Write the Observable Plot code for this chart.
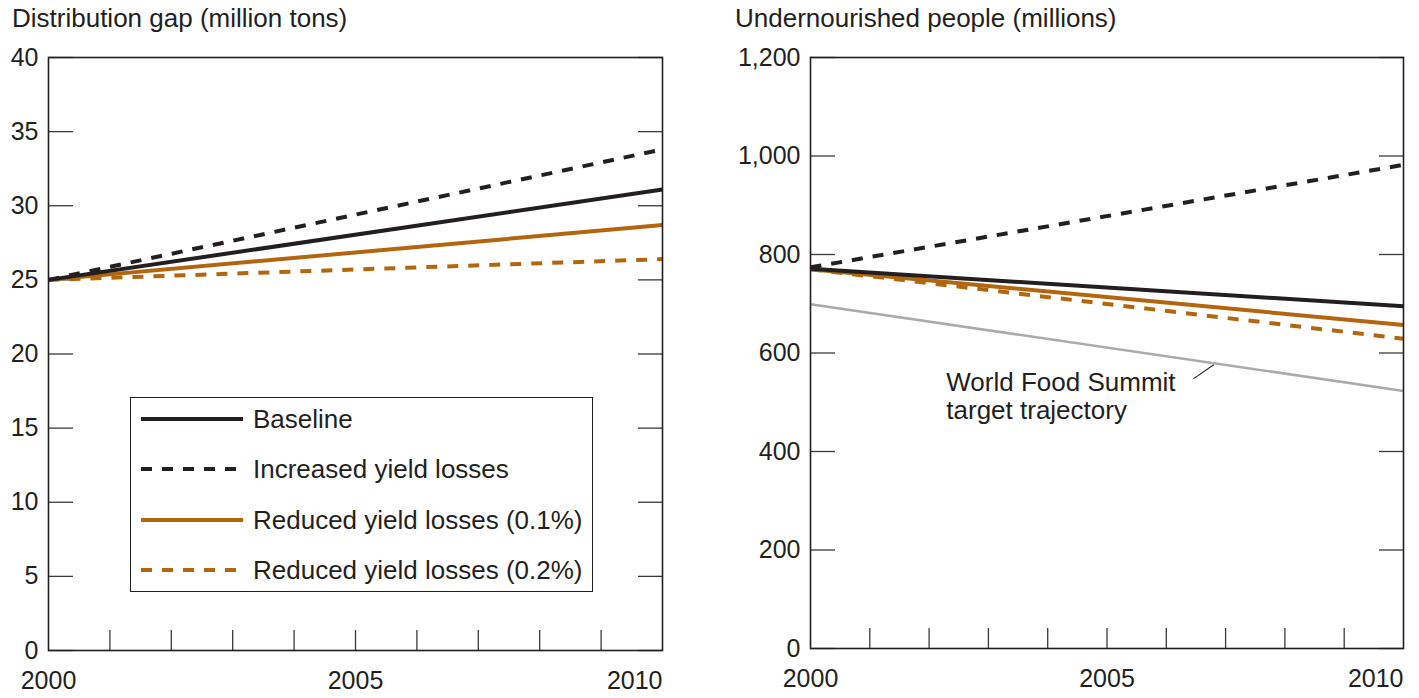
<!DOCTYPE html>
<html>
<head>
<meta charset="utf-8">
<script src="https://cdn.jsdelivr.net/npm/d3@7"></script>
<script src="https://cdn.jsdelivr.net/npm/@observablehq/plot@0.6"></script>
<style>
  html, body { margin: 0; padding: 0; background: #fff; }
  body { width: 1419px; height: 698px; overflow: hidden; position: relative;
         font-family: "Liberation Sans", Arial, Helvetica, sans-serif; color: #231f20; }
  .title { position: absolute; top: 2px; font-size: 26px; line-height: 32px; white-space: nowrap; }
  .panel { position: absolute; top: 36px; }
  .legend { position: absolute; left: 130px; top: 397px; width: 463px; height: 195px;
            border: 1.5px solid #231f20; background: #fff; box-sizing: border-box; }
  .legend .row { position: absolute; left: 0; height: 30px; display: flex; align-items: center; }
  .legend .row span { font-size: 26px; margin-left: 10px; white-space: nowrap; }
</style>
</head>
<body>
<div class="title" style="left:12px">Distribution gap (million tons)</div>
<div class="title" style="left:735px">Undernourished people (millions)</div>
<div class="panel" id="left" style="left:0px"></div>
<div class="panel" id="right" style="left:700px"></div>
<div class="legend" id="legend"></div>
<script>
// ---- data ----
const years = [2000, 2010];
const minorYearTicks = [2001, 2002, 2003, 2004, 2005, 2006, 2007, 2008, 2009];
const xLabelYears = [2000, 2005];
const xLabelEnd = [2010];

const gapTicks = [0, 5, 10, 15, 20, 25, 30, 35, 40];
const gapBaseline = [25, 31.1];
const gapIncreased = [25, 33.8];
const gapReduced01 = [25, 28.7];
const gapReduced02 = [25, 26.4];

const undTicks = [0, 200, 400, 600, 800, 1000, 1200];
const undBaseline = [771, 695];
const undIncreased = [774, 982];
const undReduced01 = [770, 657];
const undReduced02 = [770, 629];
const wfsTarget = [699, 523];

const seriesNames = ["Baseline", "Increased yield losses", "Reduced yield losses (0.1%)", "Reduced yield losses (0.2%)"];
const wfsLabel = "World Food Summit\ntarget trajectory";
const wfsLabelPos = {x: 2002.29, y: 512};
const wfsLeader = {x1: 2006.46, y1: 548, x2: 2006.80, y2: 576};

// ---- styles ----
const BLACK = "#231f20";
const ORANGE = "#b3660d";
const GRAY = "#a9abae";
const DASH = "11,10";
const styles = [
  {stroke: BLACK, dash: null, width: 4},
  {stroke: BLACK, dash: DASH, width: 4},
  {stroke: ORANGE, dash: null, width: 4},
  {stroke: ORANGE, dash: DASH, width: 4}
];
const FONT = "'Liberation Sans', Arial, Helvetica, sans-serif";

const rows = (vals) => years.map((yr, i) => ({year: yr, value: vals[i]}));
const lineMark = (vals, s) => Plot.line(rows(vals), {x: "year", y: "value", stroke: s.stroke,
  strokeWidth: s.width, strokeDasharray: s.dash, strokeLinecap: "butt"});

function axes(ticks, fmt) {
  return [
    Plot.axisY(ticks, {anchor: "left", tickSize: -25, tickPadding: 35, stroke: "#3a3a3a", strokeWidth: 1.3, label: null, tickFormat: fmt, fill: BLACK}),
    Plot.axisY(ticks, {anchor: "right", tickSize: -25, tickPadding: 0, stroke: "#3a3a3a", strokeWidth: 1.3, label: null, tickFormat: () => ""}),
    Plot.axisX(minorYearTicks, {anchor: "bottom", tickSize: -20, stroke: "#3a3a3a", strokeWidth: 1.3, label: null, tickFormat: () => ""}),
    Plot.axisX(xLabelYears, {anchor: "bottom", tickSize: 0, tickPadding: 21, label: null, tickFormat: "d", fill: BLACK}),
    Plot.axisX(xLabelEnd, {anchor: "bottom", tickSize: 0, tickPadding: 21, label: null, tickFormat: "d", textAnchor: "end", fill: BLACK})
  ];
}

const common = {
  height: 662,
  marginTop: 21,
  style: {fontFamily: FONT, fontSize: "25px", color: BLACK, background: "transparent", overflow: "visible"},
  x: {domain: [2000, 2010]}
};

const left = Plot.plot({
  ...common,
  width: 700, marginLeft: 48, marginRight: 38, marginBottom: 48,
  y: {domain: [0, 40]},
  marks: [
    ...axes(gapTicks, d => String(d)),
    lineMark(gapReduced02, styles[3]),
    lineMark(gapReduced01, styles[2]),
    lineMark(gapBaseline, styles[0]),
    lineMark(gapIncreased, styles[1]),
    Plot.frame({stroke: BLACK, strokeWidth: 1.6})
  ]
});
document.getElementById("left").appendChild(left);

const right = Plot.plot({
  ...common,
  width: 719, marginLeft: 110, marginRight: 16, marginBottom: 50,
  y: {domain: [0, 1200]},
  marks: [
    ...axes(undTicks, d3.format(",")),
    lineMark(wfsTarget, {stroke: GRAY, dash: null, width: 2.6}),
    lineMark(undReduced02, styles[3]),
    lineMark(undReduced01, styles[2]),
    lineMark(undBaseline, styles[0]),
    lineMark(undIncreased, styles[1]),
    Plot.text([wfsLabel], {x: wfsLabelPos.x, y: wfsLabelPos.y, text: d => d, textAnchor: "start",
      lineAnchor: "middle", lineHeight: 1.08, fontSize: 26, fill: BLACK}),
    Plot.link([wfsLeader], {x1: "x1", y1: "y1", x2: "x2", y2: "y2", stroke: BLACK, strokeWidth: 1.1}),
    Plot.frame({stroke: BLACK, strokeWidth: 1.6})
  ]
});
document.getElementById("right").appendChild(right);

// ---- legend ----
const legend = document.getElementById("legend");
const rowTops = [6, 56, 107, 157];
seriesNames.forEach((name, i) => {
  const s = styles[i];
  const row = document.createElement("div");
  row.className = "row";
  row.style.top = rowTops[i] + "px";
  row.innerHTML = `<svg width="112" height="30" style="display:block"><line x1="10" x2="112" y1="15" y2="15" stroke="${s.stroke}" stroke-width="4" ${s.dash ? `stroke-dasharray="${s.dash}"` : ""}/></svg><span>${name}</span>`;
  legend.appendChild(row);
});
</script>
</body>
</html>
